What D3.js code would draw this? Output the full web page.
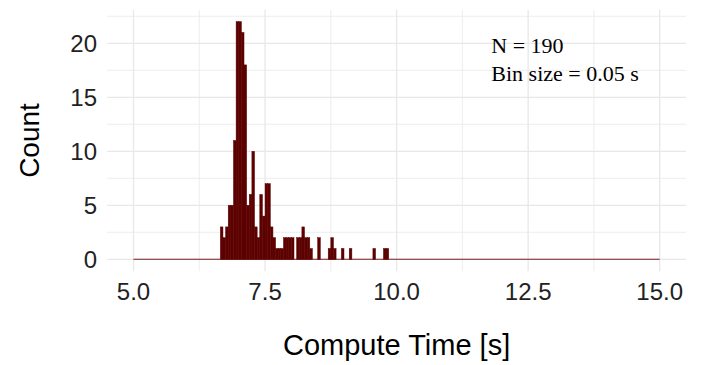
<!DOCTYPE html>
<html>
<head>
<meta charset="utf-8">
<script src="https://cdn.jsdelivr.net/npm/d3@7"></script>
<style>
  body { margin: 0; background: #fff; }
</style>
</head>
<body>
<script>
// histogram data (bin start, count), bins of 0.05 s
const binStarts = [6.65, 6.70, 6.75, 6.80, 6.85, 6.90, 6.95, 7.00, 7.05, 7.10,
                   7.15, 7.20, 7.25, 7.30, 7.35, 7.40, 7.45, 7.50, 7.55, 7.60,
                   7.65, 7.70, 7.75, 7.80, 7.85, 7.90, 7.95, 8.00, 8.10, 8.15,
                   8.20, 8.25, 8.30, 8.35, 8.50, 8.70, 8.75, 8.80, 8.95, 9.10,
                   9.55, 9.75, 9.80];
const counts = [3, 2, 3, 5, 5, 11, 22, 22, 21, 18,
                5, 6, 10, 3, 2, 6, 4, 7, 7, 3,
                2, 1, 1, 1, 2, 2, 2, 2, 2, 2,
                3, 2, 2, 1, 2, 1, 2, 1, 1, 1,
                1, 1, 1];
const binSize = 0.05;
const histRange = [5, 15];

const xTicks = [5, 7.5, 10, 12.5, 15];
const xMinor = [6.25, 8.75, 11.25, 13.75];
const yTicks = [0, 5, 10, 15, 20];
const yMinor = [2.5, 7.5, 12.5, 17.5, 22.5];
const noteLines = ["N = 190", "Bin size = 0.05 s"];

const canvWidth = 704, canvHeight = 365;
const panel = {left: 107.2, right: 686, top: 9.8, bottom: 271.2};
const barColor = '#5c0000';
const gridColor = '#e8e8e8';
const tickColor = '#222';

const svg = d3.select("body").append("svg")
  .attr("width", canvWidth)
  .attr("height", canvHeight)
  .style("font-family", "'Liberation Sans', Arial, sans-serif");

// ggplot style expanded domains
const x = d3.scaleLinear().domain([4.5, 15.5]).range([panel.left, panel.right]);
const y = d3.scaleLinear().domain([-1.1, 23.1]).range([panel.bottom, panel.top]);

// grid
const grid = svg.append('g');
grid.selectAll('.xminor').data(xMinor).enter().append('line')
  .attr('x1', d => x(d)).attr('x2', d => x(d))
  .attr('y1', panel.top).attr('y2', panel.bottom)
  .style('stroke', gridColor).style('stroke-width', 0.8);
grid.selectAll('.yminor').data(yMinor).enter().append('line')
  .attr('x1', panel.left).attr('x2', panel.right)
  .attr('y1', d => y(d)).attr('y2', d => y(d))
  .style('stroke', gridColor).style('stroke-width', 0.8);
grid.selectAll('.xmajor').data(xTicks).enter().append('line')
  .attr('x1', d => x(d)).attr('x2', d => x(d))
  .attr('y1', panel.top).attr('y2', panel.bottom)
  .style('stroke', gridColor).style('stroke-width', 1.3);
grid.selectAll('.ymajor').data(yTicks).enter().append('line')
  .attr('x1', panel.left).attr('x2', panel.right)
  .attr('y1', d => y(d)).attr('y2', d => y(d))
  .style('stroke', gridColor).style('stroke-width', 1.3);

// empty bins show as a thin line along zero
svg.append('line')
  .attr('x1', x(histRange[0])).attr('x2', x(histRange[1]))
  .attr('y1', y(0)).attr('y2', y(0))
  .style('stroke', '#7a1f1f').style('stroke-width', 1.1);

// bars
svg.append('g').selectAll('rect').data(binStarts).enter().append('rect')
  .attr('x', d => x(d))
  .attr('width', d => x(d + binSize) - x(d))
  .attr('y', (d, i) => y(counts[i]))
  .attr('height', (d, i) => y(0) - y(counts[i]))
  .style('fill', barColor)
  .style('stroke', barColor)
  .style('stroke-width', 0.5);

// tick labels
svg.append('g').selectAll('text').data(xTicks).enter().append('text')
  .text(d => d.toFixed(1))
  .attr('x', d => x(d)).attr('y', 300)
  .attr('font-size', '24px').attr('fill', tickColor)
  .style('text-anchor', 'middle');
svg.append('g').selectAll('text').data(yTicks).enter().append('text')
  .text(d => d)
  .attr('x', 97).attr('y', d => y(d) + 8.5)
  .attr('font-size', '24px').attr('fill', tickColor)
  .style('text-anchor', 'end');

// axis titles
svg.append('text').text('Compute Time [s]')
  .attr('x', (panel.left + panel.right) / 2).attr('y', 355)
  .attr('font-size', '29px').attr('fill', '#000')
  .style('text-anchor', 'middle');
svg.append('text').text('Count')
  .attr('transform', 'translate(39,' + (panel.top + panel.bottom) / 2 + ') rotate(-90)')
  .attr('font-size', '28px').attr('fill', '#000')
  .style('text-anchor', 'middle');

// annotation
svg.append('g').selectAll('text').data(noteLines).enter().append('text')
  .text(d => d)
  .attr('x', x(11.8)).attr('y', (d, i) => 53 + i * 28)
  .attr('font-family', "'Liberation Serif', 'Times New Roman', serif")
  .attr('font-size', '22px').attr('fill', '#000');
</script>
</body>
</html>
